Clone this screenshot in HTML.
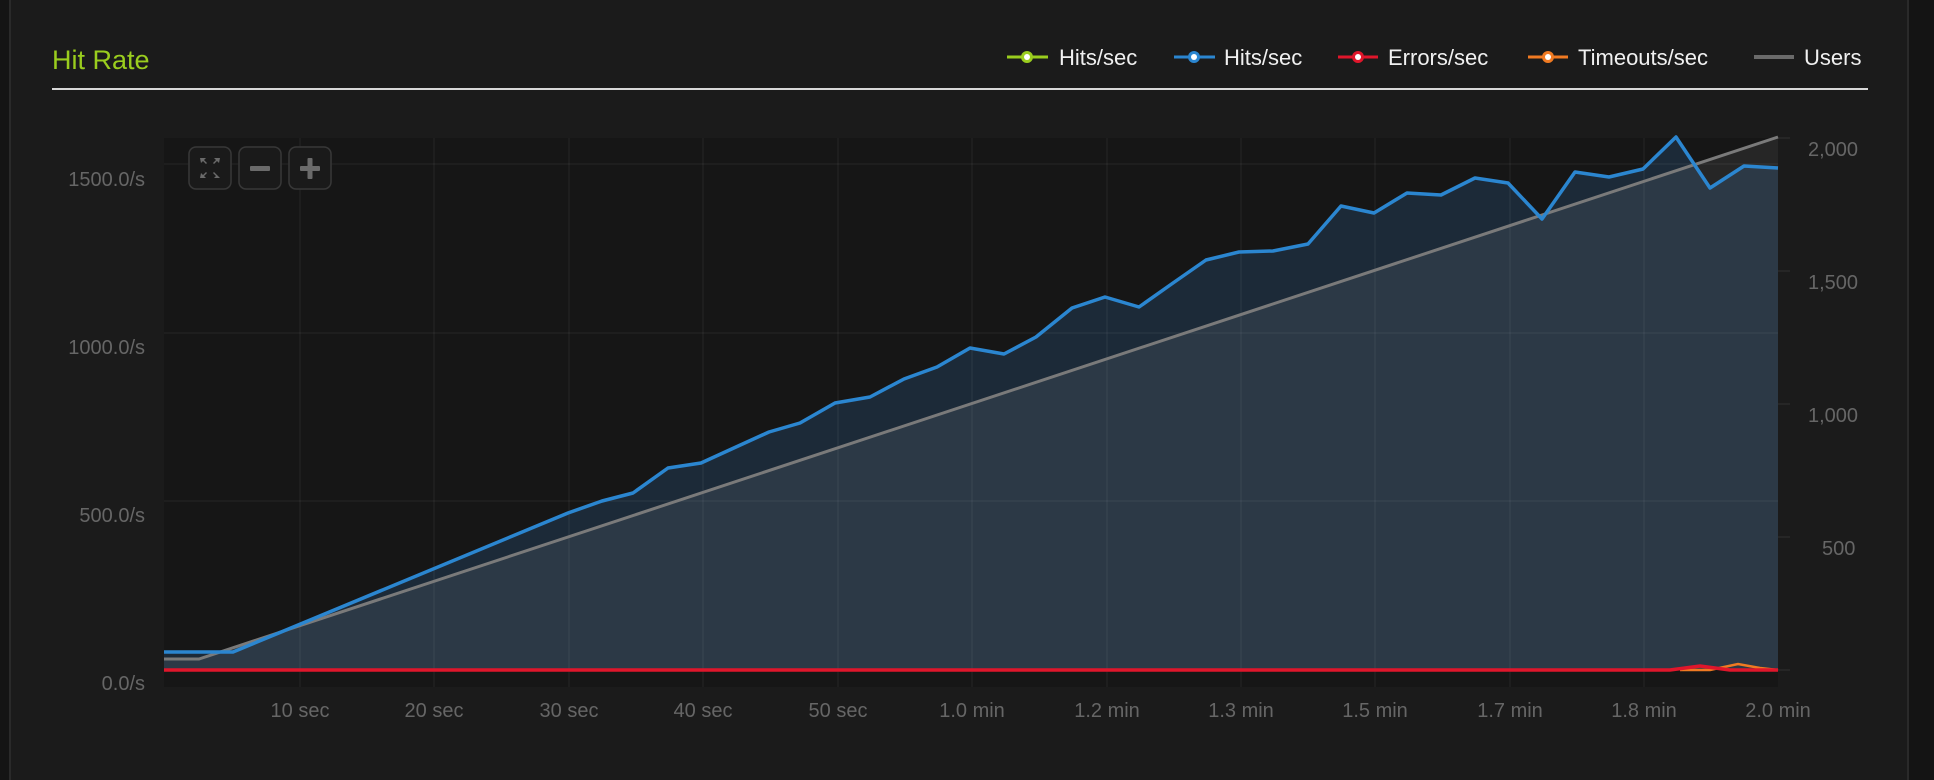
<!DOCTYPE html>
<html><head><meta charset="utf-8"><style>
html,body{margin:0;padding:0;background:#1b1b1b;}
svg{display:block;font-family:"Liberation Sans",sans-serif;}
</style></head><body>
<svg width="1934" height="780" viewBox="0 0 1934 780" xmlns="http://www.w3.org/2000/svg">
<rect x="0" y="0" width="1934" height="780" fill="#1b1b1b"/>
<rect x="0" y="0" width="9" height="780" fill="#141414"/>
<rect x="9" y="0" width="2" height="780" fill="#2a2a2a"/>
<rect x="1908" y="0" width="26" height="780" fill="#141414"/>
<rect x="1907" y="0" width="2" height="780" fill="#2a2a2a"/>

<text x="52" y="69" fill="#9acd1e" font-size="27">Hit Rate</text>
<rect x="52" y="88" width="1816" height="2" fill="#d8d8d8"/>

<!-- legend -->
<g font-size="22" fill="#f0f0f0">
<line x1="1007" y1="57" x2="1048" y2="57" stroke="#9acd1e" stroke-width="3"/><circle cx="1027" cy="57" r="6" fill="#9acd1e"/><circle cx="1027" cy="57" r="3" fill="#fff"/>
<text x="1059" y="65">Hits/sec</text>
<line x1="1174" y1="57" x2="1215" y2="57" stroke="#2b86d0" stroke-width="3"/><circle cx="1194" cy="57" r="6" fill="#2b86d0"/><circle cx="1194" cy="57" r="3" fill="#fff"/>
<text x="1224" y="65">Hits/sec</text>
<line x1="1338" y1="57" x2="1378" y2="57" stroke="#e0162b" stroke-width="3"/><circle cx="1358" cy="57" r="6" fill="#e0162b"/><circle cx="1358" cy="57" r="3" fill="#fff"/>
<text x="1388" y="65">Errors/sec</text>
<line x1="1528" y1="57" x2="1568" y2="57" stroke="#f07a22" stroke-width="3"/><circle cx="1548" cy="57" r="6" fill="#f07a22"/><circle cx="1548" cy="57" r="3" fill="#fff"/>
<text x="1578" y="65">Timeouts/sec</text>
<line x1="1754" y1="57" x2="1794" y2="57" stroke="#6a6a6a" stroke-width="4"/>
<text x="1804" y="65">Users</text>
</g>

<!-- plot bg -->
<rect x="164" y="138" width="1614" height="549" fill="#161616"/>

<!-- blue area -->
<polygon fill="#1c2a38" points="164,670 164,652 197,652 233,652 568,513 602,501 633,493 668,468 701,463 736,447 769,432 800,423 835,403 870,397 904,379 937,367 970,348 1004,354 1036,337 1072,308 1105,297 1139,307 1173,283 1206,260 1239,252 1273,251 1308,244 1341,206 1374,213 1407,193 1441,195 1475,178 1508,183 1542,219 1575,172 1609,177 1643,169 1676,137 1710,188 1744,166 1778,168 1778,670"/>
<!-- users area -->
<polygon fill="rgba(255,255,255,0.072)" points="164,670 164,659 199,659 1778,137 1778,670"/>

<!-- grid -->
<g stroke="rgba(255,255,255,0.05)" stroke-width="1.5">
<line x1="164" y1="164" x2="1778" y2="164"/>
<line x1="164" y1="333" x2="1778" y2="333"/>
<line x1="164" y1="501" x2="1778" y2="501"/>
<line x1="300" y1="138" x2="300" y2="687"/>
<line x1="434" y1="138" x2="434" y2="687"/>
<line x1="569" y1="138" x2="569" y2="687"/>
<line x1="703" y1="138" x2="703" y2="687"/>
<line x1="838" y1="138" x2="838" y2="687"/>
<line x1="972" y1="138" x2="972" y2="687"/>
<line x1="1107" y1="138" x2="1107" y2="687"/>
<line x1="1241" y1="138" x2="1241" y2="687"/>
<line x1="1375" y1="138" x2="1375" y2="687"/>
<line x1="1510" y1="138" x2="1510" y2="687"/>
<line x1="1644" y1="138" x2="1644" y2="687"/>
</g>
<g stroke="#2a2a2a" stroke-width="1.5">
<line x1="1778" y1="138" x2="1790" y2="138"/>
<line x1="1778" y1="271" x2="1790" y2="271"/>
<line x1="1778" y1="404" x2="1790" y2="404"/>
<line x1="1778" y1="537" x2="1790" y2="537"/>
<line x1="1778" y1="670" x2="1790" y2="670"/>
</g>

<polyline fill="none" stroke="#7a7a7a" stroke-width="3" points="164,659 199,659 1778,137"/>
<polyline fill="none" stroke="#2b86d0" stroke-width="3.5" stroke-linejoin="round" points="164,652 197,652 233,652 568,513 602,501 633,493 668,468 701,463 736,447 769,432 800,423 835,403 870,397 904,379 937,367 970,348 1004,354 1036,337 1072,308 1105,297 1139,307 1173,283 1206,260 1239,252 1273,251 1308,244 1341,206 1374,213 1407,193 1441,195 1475,178 1508,183 1542,219 1575,172 1609,177 1643,169 1676,137 1710,188 1744,166 1778,168"/>
<polyline fill="none" stroke="#f07a22" stroke-width="2.5" points="1680,670 1710,670 1738,664 1760,668 1778,670"/>
<polyline fill="none" stroke="#e0162b" stroke-width="3.5" points="164,670 1670,670 1700,666 1715,668 1730,670 1778,670"/>

<!-- left labels -->
<g font-size="20" fill="#666" text-anchor="end">
<text x="145" y="186">1500.0/s</text>
<text x="145" y="354">1000.0/s</text>
<text x="145" y="522">500.0/s</text>
<text x="145" y="690">0.0/s</text>
</g>
<g font-size="20" fill="#666" text-anchor="start">
<text x="1808" y="156">2,000</text>
<text x="1808" y="289">1,500</text>
<text x="1808" y="422">1,000</text>
<text x="1822" y="555">500</text>
</g>
<g font-size="20" fill="#666" text-anchor="middle">
<text x="300" y="717">10 sec</text>
<text x="434" y="717">20 sec</text>
<text x="569" y="717">30 sec</text>
<text x="703" y="717">40 sec</text>
<text x="838" y="717">50 sec</text>
<text x="972" y="717">1.0 min</text>
<text x="1107" y="717">1.2 min</text>
<text x="1241" y="717">1.3 min</text>
<text x="1375" y="717">1.5 min</text>
<text x="1510" y="717">1.7 min</text>
<text x="1644" y="717">1.8 min</text>
<text x="1778" y="717">2.0 min</text>
</g>

<!-- zoom buttons -->
<g fill="#1a1a1a" stroke="#383838" stroke-width="1.5">
<rect x="189" y="147" width="42" height="42" rx="7"/>
<rect x="239" y="147" width="42" height="42" rx="7"/>
<rect x="289" y="147" width="42" height="42" rx="7"/>
</g>
<g fill="#6a6a6a">
<path d="M200,158 h6 l-2,2 3,3 -1,1 -3,-3 -2,2z M220,158 h-6 l2,2 -3,3 1,1 3,-3 2,2z M200,178 h6 l-2,-2 3,-3 -1,-1 -3,3 -2,-2z M220,178 h-6 l2,-2 -3,-3 1,-1 3,3 2,2z"/>
<rect x="250" y="166" width="20" height="5" rx="1"/>
<rect x="300" y="166" width="20" height="5" rx="1"/>
<rect x="307.5" y="158" width="5" height="21" rx="1"/>
</g>
</svg>
</body></html>
